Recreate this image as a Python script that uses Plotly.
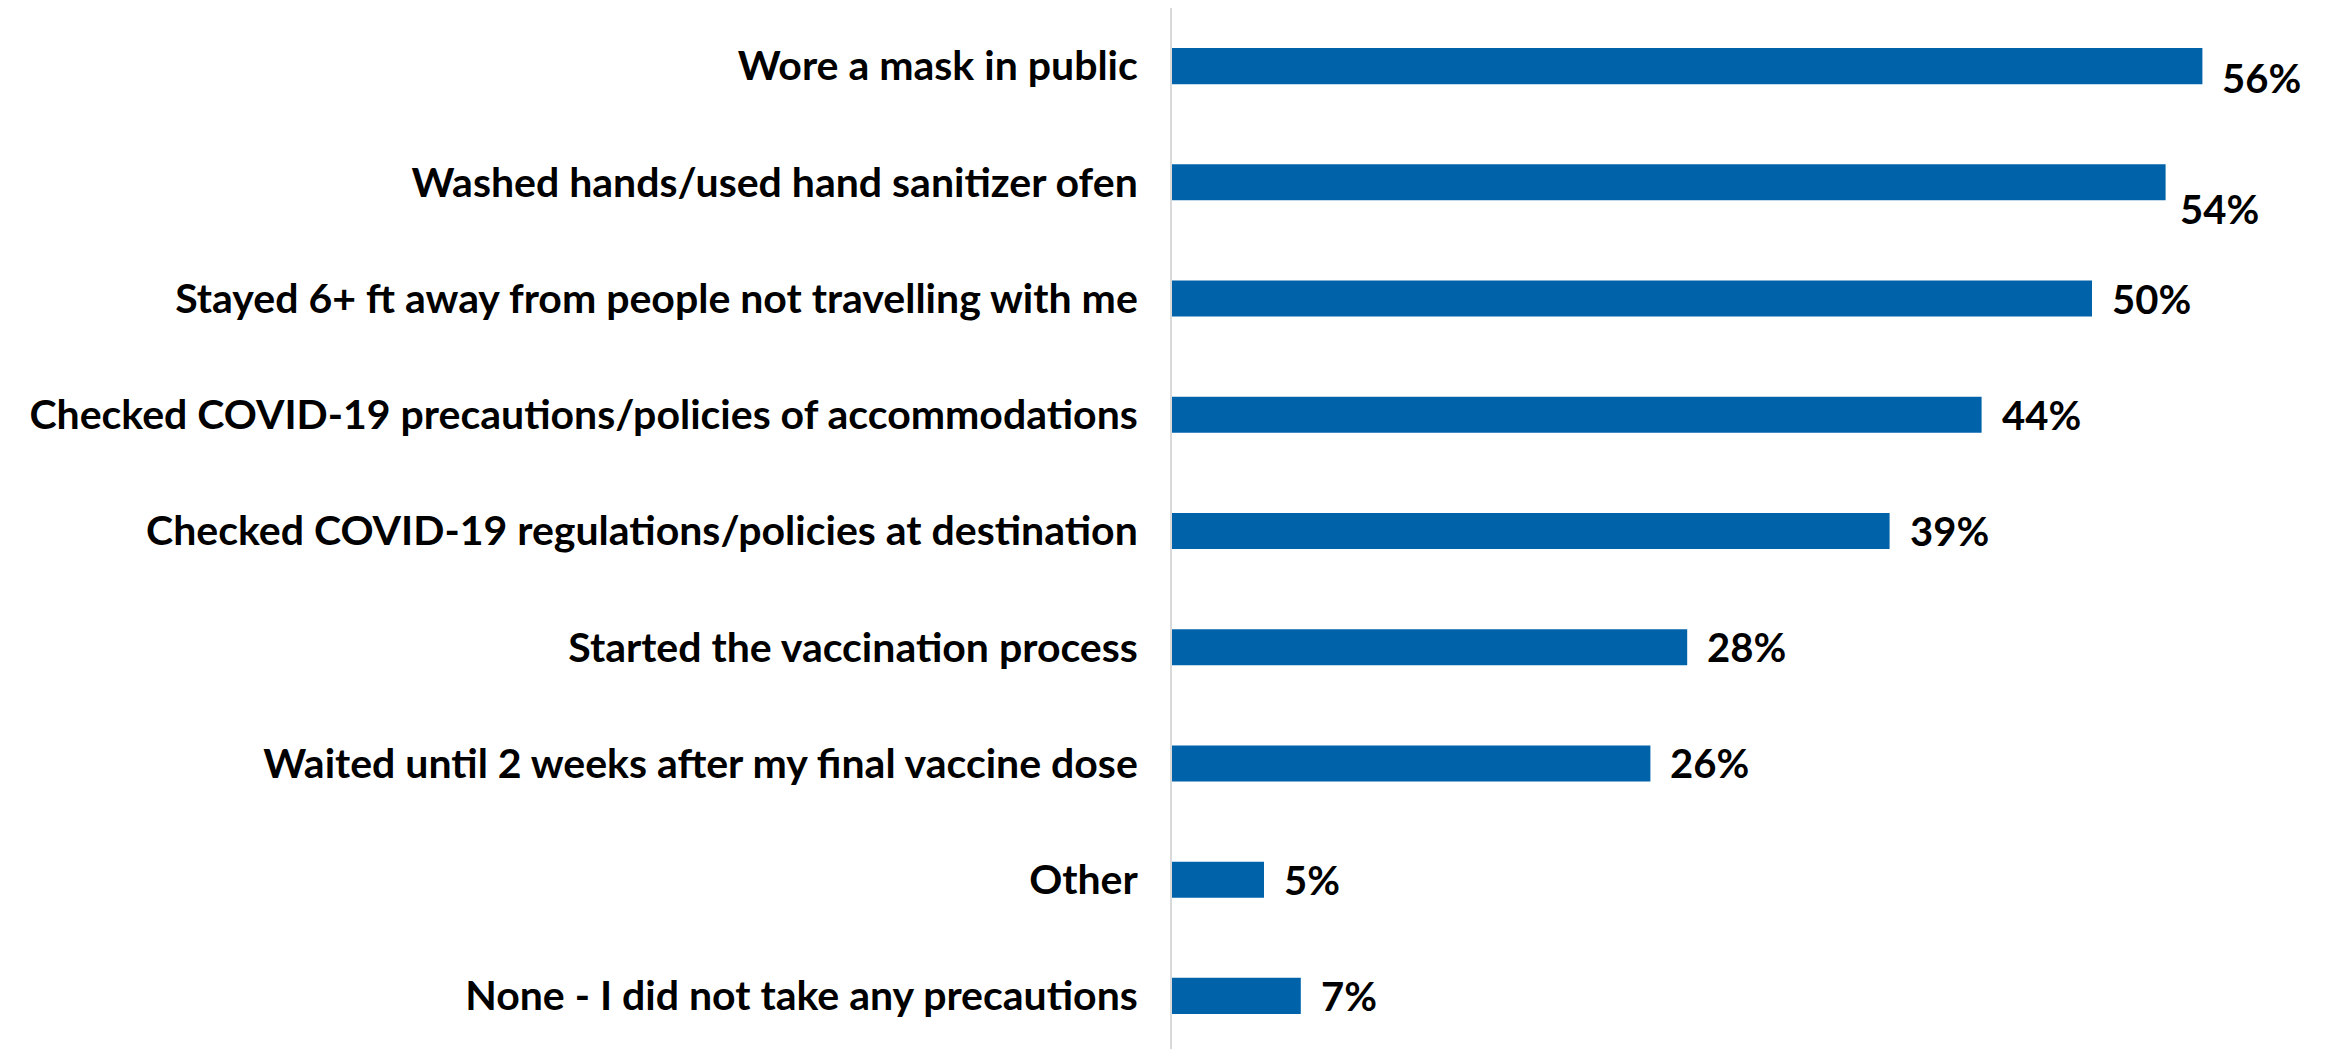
import plotly.graph_objects as go

categories = [
    "Wore a mask in public",
    "Washed hands/used hand sanitizer ofen",
    "Stayed 6+ ft away from people not travelling with me",
    "Checked COVID-19 precautions/policies of accommodations",
    "Checked COVID-19 regulations/policies at destination",
    "Started the vaccination process",
    "Waited until 2 weeks after my final vaccine dose",
    "Other",
    "None - I did not take any precautions",
]
values = [56, 54, 50, 44, 39, 28, 26, 5, 7]
labels = ["56%", "54%", "50%", "44%", "39%", "28%", "26%", "5%", "7%"]

# Excel nudged the top two labels downward
label_shift = {0: (18, -12), 1: (12, -27)}

bar_color = "#0063AA"
font_family = "Lato"
font_size = 41

fig = go.Figure(go.Bar(
    x=values,
    y=categories,
    orientation="h",
    marker=dict(color=bar_color, line=dict(width=0)),
    width=0.31,
    hoverinfo="x+y",
))

annotations = []
for i, (cat, val, lab) in enumerate(zip(categories, values, labels)):
    dx, dy = label_shift.get(i, (18, 0))
    annotations.append(dict(
        x=val, y=cat, text="<b>" + lab + "</b>", showarrow=False,
        xanchor="left", yanchor="middle",
        xshift=dx, yshift=dy,
        font=dict(family=font_family, size=40, color="black"),
    ))

fig.update_layout(
    width=2326, height=1049,
    margin=dict(l=1164, r=58, t=0, b=3),
    plot_bgcolor="white",
    paper_bgcolor="white",
    showlegend=False,
    annotations=annotations,
    xaxis=dict(
        range=[0, 60], visible=False, showgrid=False, zeroline=False,
    ),
    yaxis=dict(
        categoryorder="array", categoryarray=categories[::-1],
        showgrid=False, zeroline=False,
        showline=True, linecolor="#D9D9D9", linewidth=2,
        ticks="", ticklabelstandoff=24,
        tickfont=dict(family=font_family, size=font_size, color="black", weight="bold"),
    ),
)

fig.write_html("out.html")
